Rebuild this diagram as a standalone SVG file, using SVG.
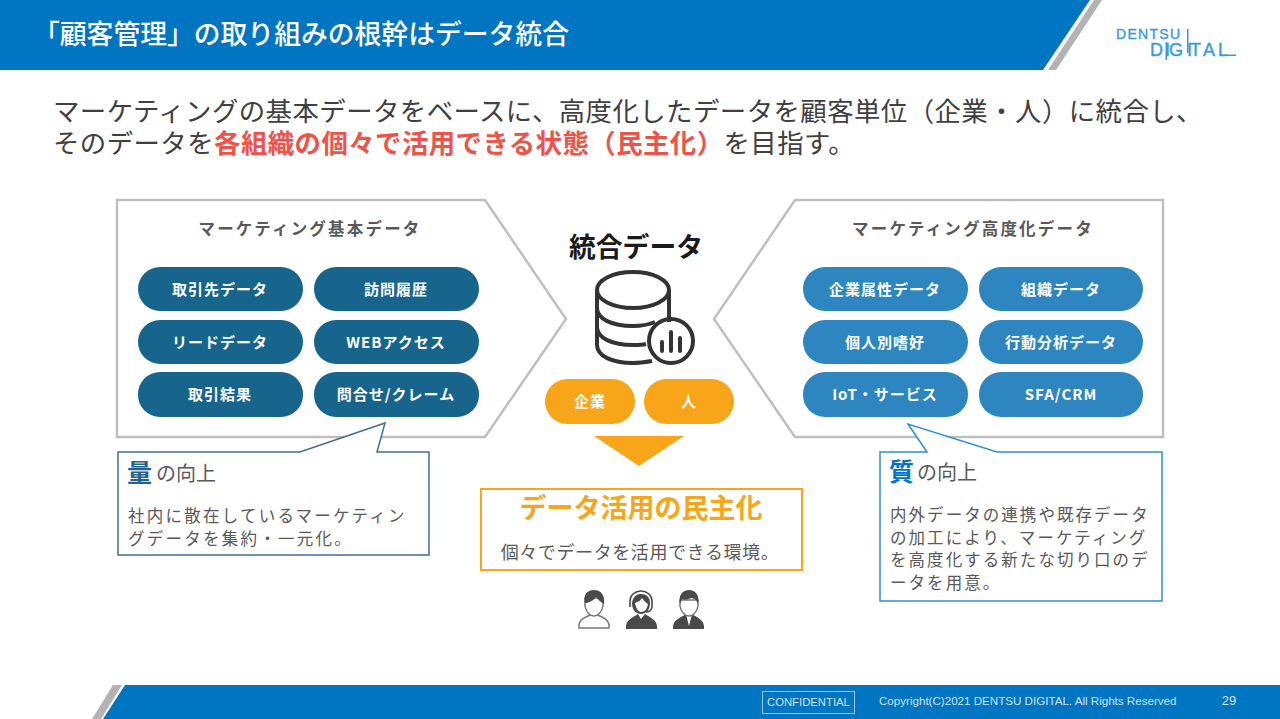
<svg xmlns="http://www.w3.org/2000/svg" width="1280" height="719" viewBox="0 0 1280 719">
<style>
text{font-family:"Noto Sans CJK JP","Noto Sans",sans-serif}
.panel{fill:#fff;stroke:#bfbfbf;stroke-width:2.5}
.pd{fill:#17648c}.pl{fill:#2e86c1}.po{fill:#f9a51a}
.pt{fill:#fff;font-size:15px;font-weight:700;text-anchor:middle;letter-spacing:1px}
.ph{fill:#595959;font-size:16.5px;font-weight:700;text-anchor:middle;letter-spacing:2.2px}
.b{fill:#595959;font-size:16.5px;letter-spacing:2.25px}
.br{fill:#595959;font-size:16.5px;letter-spacing:2.05px}
.h{fill:#595959;font-size:20px}
.lead{fill:#404040;font-size:26.4px;letter-spacing:.45px}
.ic{fill:none;stroke:#333;stroke-width:4}
.ft{fill:#cfe3f3;font-family:"Liberation Sans",sans-serif;font-size:11.6px}
.pe{fill:#4a4a4a}.pw{fill:#fff;stroke:#777;stroke-width:1.5}
</style>
<g id="header">
<polygon points="0,0 1090,0 1043,70 0,70" fill="#0075c2"/>
<polygon points="1094,0 1102,0 1056,70 1048,70" fill="#b3b3b3"/>
<text x="33" y="44" fill="#fff" style="font-size:26.8px;font-weight:500">「顧客管理」の取り組みの根幹はデータ統合</text>
</g>
<g id="logo" fill="#3a9ad9">
<text x="1116" y="38.500" stroke="#3a9ad9" stroke-width=".4" style="font-family:'Liberation Sans',sans-serif;font-size:14px;letter-spacing:1.3px">DENTSU</text>
<text x="1150 1165 1169 1187 1190 1203 1218" y="56" stroke="#3a9ad9" stroke-width=".4" style="font-family:'Liberation Sans',sans-serif;font-size:18px">DIGITAL</text>
<rect x="1187" y="29" width="1.500" height="24"/>
<rect x="1165.500" y="42" width="1.500" height="18"/>
<rect x="1226" y="54.500" width="10" height="1.500"/>
</g>
<g id="lead">
<text class="lead"><tspan x="53" y="121">マーケティングの基本データをベースに、高度化したデータを顧客単位（企業・人）に統合し、</tspan><tspan x="53" y="153">そのデータを</tspan><tspan fill="#f0524a" font-weight="700">各組織の個々で活用できる状態（民主化）</tspan><tspan>を目指す。</tspan></text>
</g>
<g id="panel-basic">
<polygon class="panel" points="117,200 485,200 566,319 485,437 117,437"/>
<text class="ph" x="310" y="235">マーケティング基本データ</text>
</g>
<g id="panel-advanced">
<polygon class="panel" points="795,200 1163,200 1163,437 795,437 714,319"/>
<text class="ph" x="973" y="235">マーケティング高度化データ</text>
</g>
<g id="pill-1"><rect class="pd" x="138" y="267" width="165" height="44" rx="22"/><text class="pt" x="220" y="295">取引先データ</text></g>
<g id="pill-2"><rect class="pd" x="314" y="267" width="165" height="44" rx="22"/><text class="pt" x="396" y="295">訪問履歴</text></g>
<g id="pill-3"><rect class="pd" x="138" y="320" width="165" height="44" rx="22"/><text class="pt" x="220" y="348">リードデータ</text></g>
<g id="pill-4"><rect class="pd" x="314" y="320" width="165" height="44" rx="22"/><text class="pt" x="396" y="348">WEBアクセス</text></g>
<g id="pill-5"><rect class="pd" x="138" y="372" width="165" height="45" rx="22"/><text class="pt" x="220" y="400">取引結果</text></g>
<g id="pill-6"><rect class="pd" x="314" y="372" width="165" height="45" rx="22"/><text class="pt" x="396" y="400">問合せ/クレーム</text></g>
<g id="pill-7"><rect class="pl" x="803" y="267" width="165" height="44" rx="22"/><text class="pt" x="885" y="295">企業属性データ</text></g>
<g id="pill-8"><rect class="pl" x="979" y="267" width="164" height="44" rx="22"/><text class="pt" x="1061" y="295">組織データ</text></g>
<g id="pill-9"><rect class="pl" x="803" y="320" width="165" height="44" rx="22"/><text class="pt" x="885" y="348">個人別嗜好</text></g>
<g id="pill-10"><rect class="pl" x="979" y="320" width="164" height="44" rx="22"/><text class="pt" x="1061" y="348">行動分析データ</text></g>
<g id="pill-11"><rect class="pl" x="803" y="372" width="165" height="45" rx="22"/><text class="pt" x="885" y="400">IoT・サービス</text></g>
<g id="pill-12"><rect class="pl" x="979" y="372" width="164" height="45" rx="22"/><text class="pt" x="1061" y="400">SFA/CRM</text></g>
<g id="integrated">
<text x="636" y="257" fill="#1a1a1a" text-anchor="middle" style="font-size:26.8px;font-weight:700">統合データ</text>
<ellipse class="ic" cx="633" cy="290" rx="36" ry="18"/>
<path class="ic" d="M597 290V345C597 356 612 363 633 363C640 363 646 362 652 361M669 290V322M597 308C597 319 612 326 633 326C640 326 648 325 655 322M597 327C597 338 612 345 633 345C637 345 642 345 646 344"/>
<circle class="ic" cx="671" cy="341" r="22"/>
<path class="ic" d="M662 342V351M671 332V351M680 338V351" stroke-linecap="round"/>
</g>
<g id="pill-company"><rect class="po" x="545" y="379" width="90" height="45" rx="22.500"/><text class="pt" x="590" y="407">企業</text></g>
<g id="pill-person"><rect class="po" x="644" y="379" width="90" height="45" rx="22.500"/><text class="pt" x="689" y="407">人</text></g>
<polygon id="down-triangle" points="594,436 684,436 639,466" fill="#f9a51a"/>
<g id="democratization">
<rect x="481" y="489" width="321" height="81" fill="#fff" stroke="#f9a51a" stroke-width="2"/>
<text x="641" y="518" fill="#f9a51a" text-anchor="middle" style="font-size:27px;font-weight:700">データ活用の民主化</text>
<text x="640" y="559" fill="#595959" text-anchor="middle" style="font-size:18px;letter-spacing:.6px">個々でデータを活用できる環境。</text>
</g>
<g id="callout-quantity">
<polygon points="118,452 300,452 385,423 377,452 429,452 429,555 118,555" fill="#fff" stroke="#3f6f94" stroke-width="1.500"/>
<text x="127" y="482" fill="#1f6391" style="font-size:25px;font-weight:700">量</text>
<text class="h" x="156" y="481">の向上</text>
<text class="b" x="128" y="522">社内に散在しているマーケティン</text>
<text class="b" x="128" y="545">グデータを集約・一元化。</text>
</g>
<g id="callout-quality">
<polygon points="880,452 927,452 908,424 997,452 1162,452 1162,601 880,601" fill="#fff" stroke="#2e8fd0" stroke-width="1.500"/>
<text x="889" y="481" fill="#0075c2" style="font-size:25px;font-weight:700">質</text>
<text class="h" x="917" y="480">の向上</text>
<text class="br" x="890" y="521">内外データの連携や既存データ</text>
<text class="br" x="890" y="544">の加工により、マーケティング</text>
<text class="br" x="890" y="566">を高度化する新たな切り口のデ</text>
<text class="br" x="890" y="589">ータを用意。</text>
</g>
<g id="person-1">
<path class="pw" d="M579 628C578 620 584 617 594 614C604 617 610 620 609 628Z"/>
<path class="pw" d="M585 598V606C586 612 590 616 594 616C598 616 602 612 603 606V598Z"/>
<path class="pe" d="M585 603C583 595 587 590 594 590C601 590 605 595 604 604C601 602 598 600 596 597C593 601 589 602 587 603Z"/>
</g>
<g id="person-2">
<path class="pe" d="M626 629C625 620 632 618 638 614L641 619L645 614C651 618 658 620 657 629Z"/>
<path class="pe" d="M632 603C633 596 637 594 641 594C646 594 650 597 650 603C650 610 646 614 641 614C636 614 632 610 632 603Z"/>
<path fill="#fff" d="M635 603C638 602 641 600 642 598C644 601 646 603 648 604C647 609 645 612 641 612C638 612 636 608 635 603Z"/>
<path d="M630 607V601C630 595 635 591 641 591C647 591 652 595 652 601V607C652 610 649 612 646 612" fill="none" stroke="#4a4a4a" stroke-width="1.600"/>
</g>
<g id="person-3">
<path class="pe" d="M673 629C672 620 680 618 686 614L689 626L692 614C698 618 705 620 704 629Z"/>
<path class="pw" d="M680 600V606C681 612 685 616 689 616C693 616 697 612 698 606V600Z"/>
<path class="pe" d="M680 604C678 595 683 590 689 590C695 590 700 595 698 604C697 600 694 598 691 598C687 600 683 600 682 599Z"/>
</g>
<g id="footer">
<polygon points="125,685 1280,685 1280,719 103,719" fill="#0075c2"/>
<polygon points="113,685 122,685 101,719 92,719" fill="#b3b3b3"/>
<rect x="762.500" y="691.500" width="92" height="22" fill="none" stroke="#9cc6e6" stroke-width="1"/>
<text class="ft" x="767" y="706" style="font-size:11.3px">CONFIDENTIAL</text>
<text class="ft" x="879" y="705">Copyright(C)2021 DENTSU DIGITAL. All Rights Reserved</text>
<text class="ft" x="1229" y="705" text-anchor="middle" style="font-size:13px">29</text>
</g>
</svg>
